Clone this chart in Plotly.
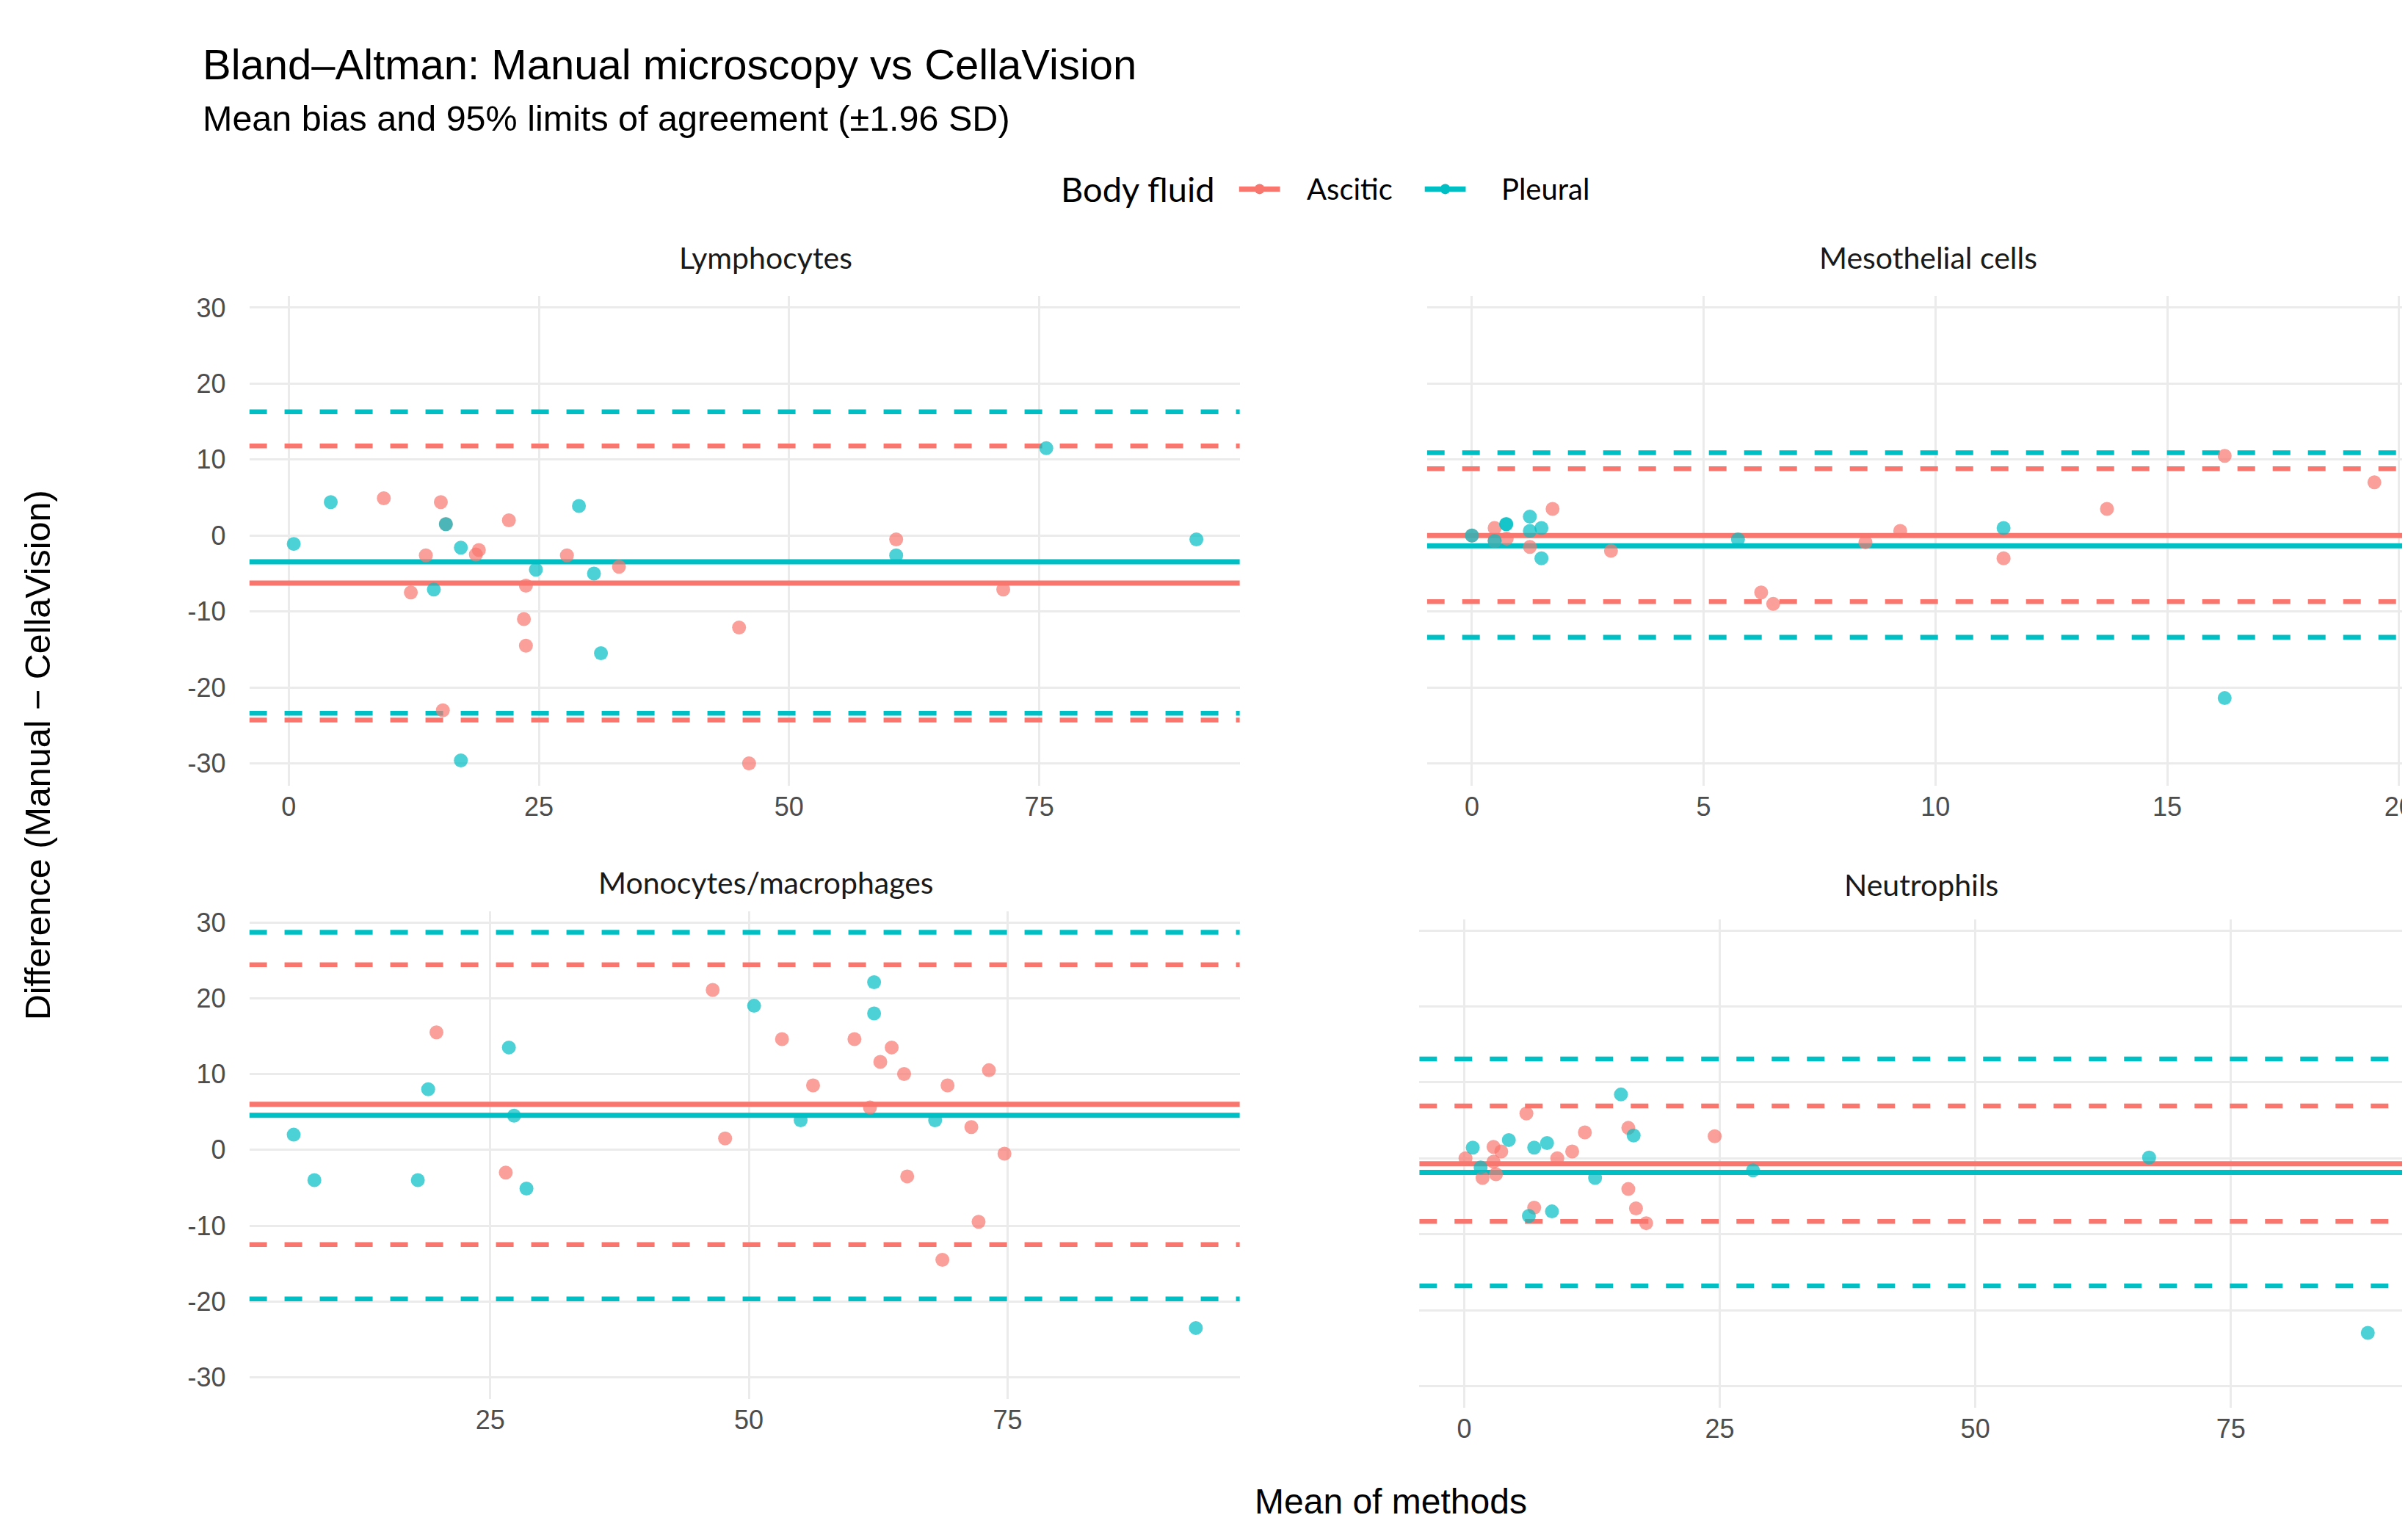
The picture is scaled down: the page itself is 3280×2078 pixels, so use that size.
import plotly.graph_objects as go

W, H = 3280, 2078

# ---------------- data ----------------
panels = ["Lymphocytes", "Mesothelial cells", "Monocytes/macrophages", "Neutrophils"]
groups = ["Ascitic", "Pleural"]

lym_asc_x = [9.5, 15.2, 15.7, 13.7, 12.2, 19.0, 18.7, 22.0, 27.8, 33.0, 23.7, 23.5, 23.7, 15.4, 45.0, 46.0, 60.7, 71.4]
lym_asc_y = [4.9, 4.4, 1.5, -2.6, -7.5, -1.9, -2.5, 2.0, -2.6, -4.1, -6.6, -11.0, -14.5, -23.0, -12.1, -30.0, -0.5, -7.1]
lym_ple_x = [0.5, 4.2, 15.7, 17.2, 14.5, 24.7, 29.0, 30.5, 31.2, 17.2, 60.7, 75.7, 90.7]
lym_ple_y = [-1.1, 4.4, 1.5, -1.6, -7.1, -4.5, 3.9, -5.0, -15.5, -29.6, -2.6, 11.5, -0.5]

mes_asc_x = [0.0, 0.49, 0.49, 0.75, 1.25, 1.74, 3.0, 6.24, 6.5, 8.49, 9.24, 11.47, 13.7, 16.24, 19.47]
mes_asc_y = [0.0, 1.0, -0.7, -0.4, -1.5, 3.5, -2.0, -7.5, -9.0, -0.9, 0.6, -3.0, 3.5, 10.5, 7.0]
mes_ple_x = [0.0, 0.49, 0.74, 0.74, 1.25, 1.25, 1.5, 1.5, 5.74, 11.47, 16.24]
mes_ple_y = [0.0, -0.7, 1.5, 1.5, 2.5, 0.6, 1.0, -3.0, -0.5, 1.0, -21.4]

mon_asc_x = [19.8, 26.5, 46.5, 47.7, 53.2, 56.2, 60.2, 61.7, 62.7, 63.8, 65.0, 65.3, 68.7, 69.2, 71.5, 72.2, 73.2, 74.7]
mon_asc_y = [15.5, -3.0, 21.1, 1.5, 14.6, 8.5, 14.6, 5.6, 11.6, 13.5, 10.0, -3.5, -14.5, 8.5, 3.0, -9.5, 10.5, -0.5]
mon_ple_x = [6.0, 8.0, 18.0, 19.0, 26.8, 27.3, 28.5, 50.5, 55.0, 62.1, 62.1, 68.0, 93.2]
mon_ple_y = [2.0, -4.0, -4.0, 8.0, 13.5, 4.5, -5.1, 19.0, 3.9, 22.1, 18.0, 3.9, -23.5]

neu_asc_x = [0.12, 2.86, 3.62, 2.86, 1.79, 3.1, 6.08, 9.1, 10.56, 11.8, 16.05, 24.5, 6.84, 16.05, 16.8, 17.8]
neu_asc_y = [0.0, 1.5, 0.9, -0.45, -2.6, -2.1, 5.9, 0.0, 0.9, 3.4, 4.0, 2.9, -6.5, -4.05, -6.6, -8.55]
neu_ple_x = [0.83, 4.36, 6.84, 8.1, 1.6, 12.8, 6.32, 8.58, 15.33, 16.57, 28.25, 67.0, 88.4]
neu_ple_y = [1.4, 2.4, 1.4, 2.0, -1.2, -2.6, -7.6, -7.0, 8.4, 3.0, -1.6, 0.1, -23.0]

# bias, lower LoA, upper LoA per panel (Ascitic / Pleural)
bias_asc = [-6.26, 0.0, 6.0, -0.74]
lo_asc = [-24.3, -8.7, -12.5, -8.33]
hi_asc = [11.8, 8.8, 24.4, 6.88]
bias_ple = [-3.45, -1.35, 4.55, -1.86]
lo_ple = [-23.4, -13.4, -19.65, -16.8]
hi_ple = [16.3, 10.9, 28.7, 13.08]

y_ticks = [-30, -20, -10, 0, 10, 20, 30]
y_tick_text = ["-30", "-20", "-10", "0", "10", "20", "30"]

# ---------------- styling / layout ----------------
COL = {"Ascitic": "#F8766D", "Pleural": "#00BFC4"}
SANS = "Liberation Sans, Arial, sans-serif"
HUM = "Lato, Open Sans, sans-serif"
TICK = "#4D4D4D"
GRID = "#EBEBEB"

pts = [
    (lym_asc_x, lym_asc_y, lym_ple_x, lym_ple_y),
    (mes_asc_x, mes_asc_y, mes_ple_x, mes_ple_y),
    (mon_asc_x, mon_asc_y, mon_ple_x, mon_ple_y),
    (neu_asc_x, neu_asc_y, neu_ple_x, neu_ple_y),
]


def px_x(a, b):
    return [a / W, b / W]


def px_y(top, bot):
    return [1 - bot / H, 1 - top / H]


geo = [
    dict(xd=px_x(333, 1688), yd=px_y(391.4, 1059.1), xr=[-3.94, 95.04], dt=25, ylab=True),
    dict(xd=px_x(1944, 3280), yd=px_y(391.4, 1059.1), xr=[-0.97, 20.10], dt=5, ylab=False),
    dict(xd=px_x(333, 1688), yd=px_y(1230.5, 1897.0), xr=[1.71, 97.45], dt=25, ylab=True),
    dict(xd=px_x(1933.5, 3280), yd=px_y(1241.5, 1909.0), xr=[-4.40, 91.9], dt=25, ylab=False),
]
yrange = [-32.9, 31.5]

fig = go.Figure()
shapes = []
layout = {}

for i, (g, p) in enumerate(zip(geo, pts)):
    n = "" if i == 0 else str(i + 1)
    xa, ya = "x" + n, "y" + n
    for gname, xs, ys in (("Ascitic", p[0], p[1]), ("Pleural", p[2], p[3])):
        fig.add_trace(go.Scatter(
            x=xs, y=ys, mode="markers", xaxis=xa, yaxis=ya,
            marker=dict(color=COL[gname], size=19, opacity=0.7, line=dict(width=0)),
            showlegend=False, name=gname))
    for gname, b, lo, hi in (("Ascitic", bias_asc[i], lo_asc[i], hi_asc[i]),
                             ("Pleural", bias_ple[i], lo_ple[i], hi_ple[i])):
        for val, dash, wd in ((b, "solid", 7), (lo, "24px,24px", 6.5), (hi, "24px,24px", 6.5)):
            shapes.append(dict(type="line", xref=xa, yref=ya,
                               x0=g["xr"][0], x1=g["xr"][1], y0=val, y1=val,
                               layer="between",
                               line=dict(color=COL[gname], width=wd, dash=dash)))
    layout["xaxis" + n] = dict(
        domain=g["xd"], anchor=ya, range=g["xr"], dtick=g["dt"], tick0=0,
        showgrid=True, gridcolor=GRID, gridwidth=3, zeroline=False, showline=False,
        ticks="", ticklabelstandoff=4, ticklabeloverflow="allow",
        tickfont=dict(family=SANS, size=36, color=TICK))
    layout["yaxis" + n] = dict(
        domain=g["yd"], anchor=xa, range=yrange,
        tickmode="array", tickvals=y_ticks, ticktext=y_tick_text,
        showgrid=True, gridcolor=GRID, gridwidth=3, zeroline=False, showline=False,
        ticks="", showticklabels=g["ylab"], ticklabelstandoff=31,
        tickfont=dict(family=SANS, size=36, color=TICK))

annotations = []


def ann(text, xpx, ypx, size, family, color="black", xanchor="center", angle=0):
    annotations.append(dict(
        text=text, x=xpx / W, y=1 - ypx / H, xref="paper", yref="paper",
        xanchor=xanchor, yanchor="middle", showarrow=False, textangle=angle,
        font=dict(size=size, family=family, color=color)))


ann("Bland\u2013Altman: Manual microscopy vs CellaVision", 267, 75, 58, SANS, xanchor="left")
ann("Mean bias and 95% limits of agreement (\u00b11.96 SD)", 267, 148, 48.5, SANS, xanchor="left")

ann("Lymphocytes", 1039, 338, 41, HUM, color="#1A1A1A")
ann("Mesothelial cells", 2630, 338, 41, HUM, color="#1A1A1A")
ann("Monocytes/macrophages", 1040, 1191, 41, HUM, color="#1A1A1A")
ann("Neutrophils", 2620, 1194, 41, HUM, color="#1A1A1A")

ann("Mean of methods", 1895, 2036, 48, SANS)
ann("Difference (Manual \u2212 CellaVision)", 43, 1018, 48.5, SANS, angle=-90)

# legend (drawn as keys + labels)
ann("Body fluid", 1441, 245, 47, HUM, xanchor="left")
legend_key_x = {"Ascitic": (1687, 1743), "Pleural": (1941, 1997)}
legend_text_x = {"Ascitic": 1778, "Pleural": 2044}
LEG_Y = 1 - 245 / H
for gname in groups:
    a, b = legend_key_x[gname]
    shapes.append(dict(type="line", xref="paper", yref="paper",
                       x0=a / W, x1=b / W, y0=LEG_Y, y1=LEG_Y,
                       line=dict(color=COL[gname], width=7)))
    c = (a + b) / 2
    shapes.append(dict(type="circle", xref="paper", yref="paper",
                       x0=(c - 7) / W, x1=(c + 7) / W, y0=LEG_Y - 7 / H, y1=LEG_Y + 7 / H,
                       fillcolor=COL[gname], line=dict(width=0)))
    ann(gname, legend_text_x[gname], 245, 40, HUM, xanchor="left")

fig.update_layout(
    width=W, height=H,
    margin=dict(l=0, r=0, t=0, b=0),
    paper_bgcolor="white", plot_bgcolor="white",
    shapes=shapes, annotations=annotations,
    showlegend=False,
    **layout)

fig.write_html("out.html")
